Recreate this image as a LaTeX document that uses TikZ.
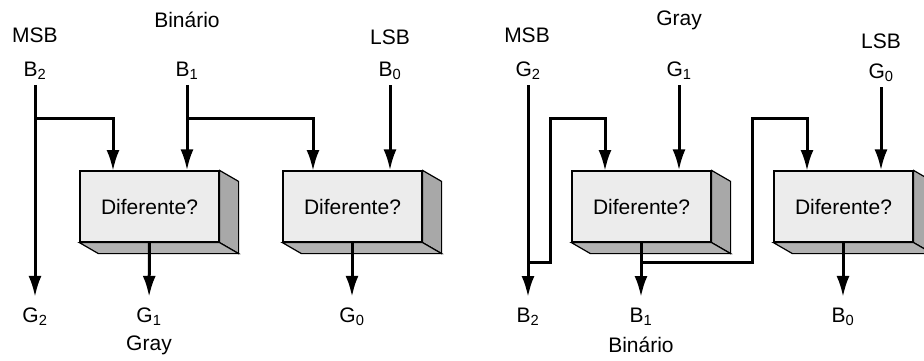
\documentclass[tikz,border=0pt]{standalone}
\usepackage{fontspec}
\setmainfont{Liberation Sans}
\usetikzlibrary{arrows.meta}
\definecolor{facecol}{HTML}{ECECEC}
\definecolor{sidecol}{HTML}{A8A8A8}
\definecolor{basecol}{HTML}{B2B2B2}
\begin{document}
\begin{tikzpicture}[x=1pt,y=-1pt]
	\tikzset{lbl/.style = {font=\fontsize{21}{25}\selectfont, inner sep=1pt}}
	\tikzset{gate/.style = {draw, fill=facecol, line width=1.2pt, minimum width=139pt, minimum height=71pt, inner sep=0pt, font=\fontsize{21}{25}\selectfont}}
	\tikzset{wire/.style = {line width=3pt}}
	\tikzset{edge/.style = {wire, -{Latex[length=21pt,width=13pt]}}}
	\tikzset{outedge/.style = {edge, shorten >=10pt}}
	\useasboundingbox (0,0) rectangle (924,360);

	% binario -> gray
	\node[lbl] (msbA) at (35,35) {MSB};
	\node[lbl] (binA) at (187,20) {Binário};
	\node[lbl] (lsbA) at (390,37) {LSB};
	\node[lbl] (b2in) at (35,71) {B\textsubscript{2}};
	\node[lbl] (b1in) at (187,71) {B\textsubscript{1}};
	\node[lbl] (b0in) at (390,71) {B\textsubscript{0}};
	\node[gate] (d1) at (149.5,206.5) {Diferente?};
	\node[gate] (d2) at (352.5,206.5) {Diferente?};
	\node[lbl] (g2out) at (35,317) {G\textsubscript{2}};
	\node[lbl] (g1out) at (149,317) {G\textsubscript{1}};
	\node[lbl] (g0out) at (352,317) {G\textsubscript{0}};
	\node[lbl] (grayA) at (149,345) {Gray};
	\coordinate (j1) at (35,118);
	\coordinate (j2) at (187,118);
	\coordinate (d1a) at (113,171);
	\coordinate (d2a) at (313,171);

	% gray -> binario
	\node[lbl] (msbB) at (527,35) {MSB};
	\node[lbl] (grayB) at (679,20) {Gray};
	\node[lbl] (lsbB) at (881,41) {LSB};
	\node[lbl] (g2in) at (528,71) {G\textsubscript{2}};
	\node[lbl] (g1in) at (679,71) {G\textsubscript{1}};
	\node[lbl] (g0in) at (881,73) {G\textsubscript{0}};
	\node[gate] (d3) at (641.5,206.5) {Diferente?};
	\node[gate] (d4) at (843.5,206.5) {Diferente?};
	\node[lbl] (b2out) at (528,317) {B\textsubscript{2}};
	\node[lbl] (b1out) at (641,317) {B\textsubscript{1}};
	\node[lbl] (b0out) at (843,317) {B\textsubscript{0}};
	\node[lbl] (binB) at (641,345) {Binário};
	\coordinate (j3) at (528,262);
	\coordinate (j4) at (641,262);
	\coordinate (k3) at (550,118);
	\coordinate (k4) at (752,118);
	\coordinate (d3a) at (605,171);
	\coordinate (d4a) at (807,171);

	% caixas em 3D
	\foreach \b in {d1,d2,d3,d4} {
		\draw[fill=sidecol, line width=1.2pt] (\b.north east) -- ++(19,11) -- ([shift={(19,11)}]\b.south east) -- (\b.south east) -- cycle;
		\draw[fill=basecol, line width=1.2pt] (\b.south west) -- ++(19,11) -- ([shift={(19,11)}]\b.south east) -- (\b.south east) -- cycle;
	}

	% ligacoes
	\draw[outedge, shorten <=4pt] (b2in.south) -- (g2out.north);
	\draw[edge, shorten <=4pt] (b1in.south) -- (b1in.south |- d1.north);
	\draw[edge, shorten <=4pt] (b0in.south) -- (b0in.south |- d2.north);
	\draw[edge] (j1) -| (d1a);
	\draw[edge] (j2) -| (d2a);
	\draw[outedge] (d1.south) -- (g1out.north);
	\draw[outedge] (d2.south -| g0out) -- (g0out.north);

	\draw[outedge, shorten <=4pt] (g2in.south) -- (b2out.north);
	\draw[edge, shorten <=4pt] (g1in.south) -- (g1in.south |- d3.north);
	\draw[edge, shorten <=4pt] (g0in.south) -- (g0in.south |- d4.north);
	\draw[edge] (j3) -| (k3) -| (d3a);
	\draw[edge] (j4) -| (k4) -| (d4a);
	\draw[outedge] (d3.south -| b1out) -- (b1out.north);
	\draw[outedge] (d4.south -| b0out) -- (b0out.north);
\end{tikzpicture}
\end{document}
